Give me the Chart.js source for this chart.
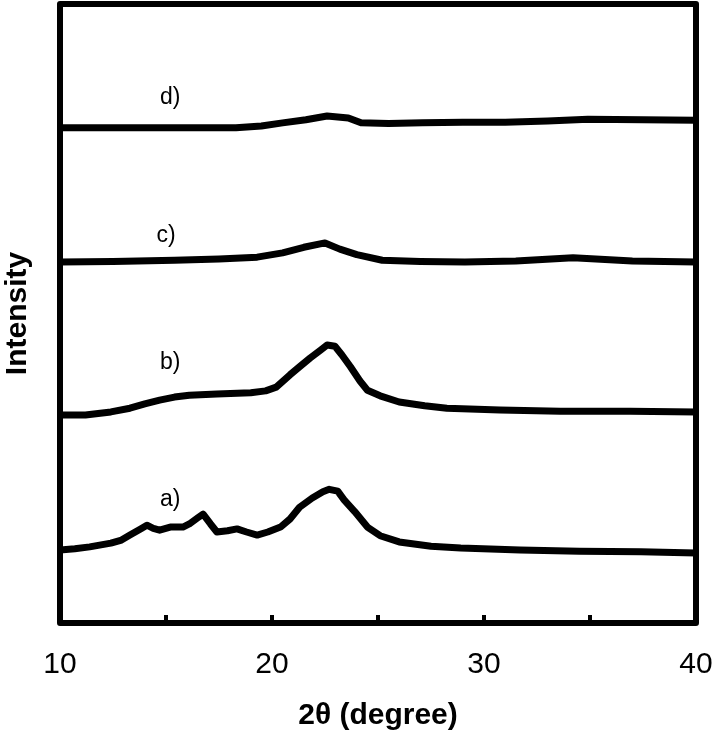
<!DOCTYPE html>
<html>
<head>
<meta charset="utf-8">
<script src="https://cdn.jsdelivr.net/npm/chart.js@4/dist/chart.umd.min.js"></script>
<style>
  html, body { margin: 0; padding: 0; background: #fff; }
  #wrap { width: 714px; height: 738px; }
</style>
</head>
<body>
<div id="wrap"><canvas id="chart"></canvas></div>
<script>
// 2θ positions and intensities (arbitrary units, curves offset vertically)
const thetaA = [10, 10.7, 11.4, 12.4, 12.9, 13.3, 13.8, 14.1, 14.4, 14.7, 15.2, 15.8, 16.1, 16.5, 16.75, 17.1, 17.4, 17.9, 18.35, 18.8, 19.3, 19.8, 20.4, 20.85, 21.3, 21.9, 22.4, 22.7, 23.1, 23.4, 23.9, 24.5, 25.1, 26, 27.5, 28.9, 31.7, 34.5, 37.4, 40];
const curveA = [11.8, 12.0, 12.3, 12.9, 13.4, 14.2, 15.2, 15.8, 15.3, 15.0, 15.5, 15.5, 16.0, 17.0, 17.6, 16.0, 14.7, 14.9, 15.2, 14.7, 14.2, 14.7, 15.5, 16.8, 18.7, 20.2, 21.2, 21.6, 21.3, 19.9, 18.0, 15.5, 14.1, 13.1, 12.4, 12.1, 11.8, 11.6, 11.5, 11.3];

const thetaB = [10, 11.2, 12.4, 13.3, 14, 14.7, 15.4, 16.1, 17.4, 19, 19.7, 20.2, 20.85, 21.3, 21.8, 22.3, 22.6, 22.97, 23.3, 23.7, 24.15, 24.5, 25.1, 26, 27.2, 28.25, 30.75, 33.6, 36.9, 40];
const curveB = [33.6, 33.6, 34.1, 34.7, 35.4, 36.0, 36.5, 36.8, 37.0, 37.2, 37.5, 38.1, 40.1, 41.4, 42.8, 44.1, 44.9, 44.7, 43.3, 41.4, 39.1, 37.6, 36.7, 35.7, 35.1, 34.7, 34.4, 34.2, 34.2, 34.1];

const thetaC = [10, 12.5, 15.4, 17.5, 19.3, 20.5, 21.5, 22.5, 23.2, 24, 25.2, 27, 29.1, 31.5, 34.2, 37, 40];
const curveC = [58.3, 58.4, 58.6, 58.8, 59.1, 59.8, 60.7, 61.4, 60.4, 59.5, 58.6, 58.4, 58.3, 58.5, 59.0, 58.5, 58.3];

const thetaD = [10, 13, 16, 18.3, 19.5, 20.5, 21.6, 22.6, 23.6, 24.2, 25.5, 27.1, 29, 31, 33, 34.9, 37.5, 40];
const curveD = [80.0, 80.0, 80.0, 80.0, 80.3, 80.8, 81.3, 81.9, 81.6, 80.8, 80.7, 80.8, 80.9, 80.9, 81.1, 81.4, 81.3, 81.2];

const curveNames = ['a)', 'b)', 'c)', 'd)'];
const nameTheta = [15.2, 15.2, 15.0, 15.2];
const nameValue = [19.9, 42.0, 62.5, 84.8];

const xTickMarks = [15, 20, 25, 30, 35];

const toPoints = (xs, ys) => xs.map((x, i) => ({ x, y: ys[i] }));

// frame, inner tick marks and curve labels
const framePlugin = {
  id: 'frame',
  afterDraw(chart) {
    const { ctx, chartArea: { left, top, right, bottom }, scales } = chart;
    ctx.save();
    ctx.strokeStyle = '#000';
    ctx.lineWidth = 4;
    xTickMarks.forEach((v) => {
      const px = scales.x.getPixelForValue(v);
      ctx.beginPath();
      ctx.moveTo(px, bottom);
      ctx.lineTo(px, bottom - 8);
      ctx.stroke();
    });
    ctx.lineWidth = 6;
    ctx.lineJoin = 'round';
    ctx.strokeRect(left, top, right - left, bottom - top);

    ctx.fillStyle = '#000';
    ctx.font = '23px "Liberation Sans", Arial, sans-serif';
    ctx.textAlign = 'center';
    ctx.textBaseline = 'middle';
    curveNames.forEach((name, i) => {
      ctx.fillText(name, scales.x.getPixelForValue(nameTheta[i]), scales.y.getPixelForValue(nameValue[i]));
    });
    ctx.restore();
  }
};

const lineStyle = {
  borderColor: '#000',
  borderWidth: 7,
  pointRadius: 0,
  tension: 0,
  fill: false,
  borderJoinStyle: 'round',
  borderCapStyle: 'round'
};

Chart.defaults.font.family = '"Liberation Sans", Arial, sans-serif';
Chart.defaults.color = '#000';

const chartConfig = {
  type: 'line',
  data: {
    datasets: [
      { label: 'a', data: toPoints(thetaA, curveA), ...lineStyle },
      { label: 'b', data: toPoints(thetaB, curveB), ...lineStyle },
      { label: 'c', data: toPoints(thetaC, curveC), ...lineStyle },
      { label: 'd', data: toPoints(thetaD, curveD), ...lineStyle }
    ]
  },
  options: {
    responsive: true,
    maintainAspectRatio: false,
    animation: false,
    layout: { padding: { top: 4, right: 18, left: 0, bottom: 0 } },
    plugins: {
      legend: { display: false },
      tooltip: { enabled: false }
    },
    scales: {
      x: {
        type: 'linear',
        min: 10,
        max: 40,
        grid: { display: false, drawTicks: false },
        border: { display: false },
        ticks: {
          stepSize: 10,
          padding: 24,
          font: { size: 30 },
          maxRotation: 0
        },
        title: {
          display: true,
          text: '2θ (degree)',
          font: { size: 30, weight: 'bold' },
          padding: { top: 0, bottom: 4 }
        },
        afterFit: (scale) => {
          scale.height = 115;
          scale.paddingLeft = 0;
          scale.paddingRight = 0;
        }
      },
      y: {
        type: 'linear',
        min: 0,
        max: 100,
        grid: { display: false, drawTicks: false },
        border: { display: false },
        ticks: { display: false },
        title: {
          display: true,
          text: 'Intensity',
          font: { size: 30, weight: 'bold' },
          padding: { top: 0, bottom: 0 }
        },
        afterFit: (scale) => { scale.width = 60; }
      }
    }
  },
  plugins: [framePlugin]
};

new Chart(document.getElementById('chart'), chartConfig);
</script>
</body>
</html>
